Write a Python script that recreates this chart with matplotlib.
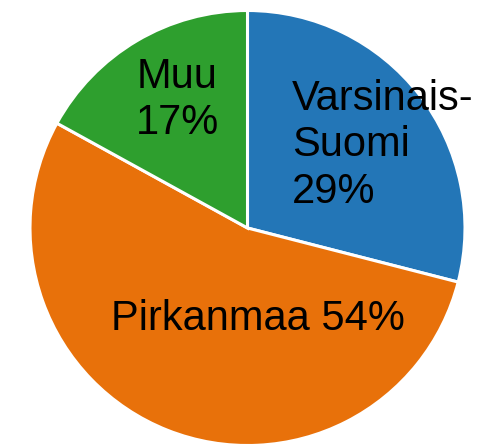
import matplotlib
matplotlib.use("Agg")
import numpy as np
from matplotlib import pyplot as plt

REGIONS = ["Varsinais-\nSuomi", "Pirkanmaa", "Muu"]
SHARES = [29, 54, 17]
COLORS = ["#2376b7", "#e8710a", "#2e9f2e"]

# label anchor points in data units (pie radius = 1)
LABEL_POS = [(0.205, 0.38), (0.05, -0.42), (-0.32, 0.59)]
LABEL_HA = ["left", "center", "center"]

FIG_W, FIG_H = 504, 447
CENTER_PX = (247.5, 228)
RADIUS_PX = 217.5

plt.rcParams["font.family"] = ["Liberation Sans", "DejaVu Sans"]

fig = plt.figure(figsize=(FIG_W / 100, FIG_H / 100), dpi=100)
ax = fig.add_axes([0, 0, 1, 1])

ax.pie(SHARES, colors=COLORS, startangle=90, counterclock=False,
       wedgeprops=dict(edgecolor="white", linewidth=2.2))

for name, share, (x, y), ha in zip(REGIONS, SHARES, LABEL_POS, LABEL_HA):
    sep = " " if name == "Pirkanmaa" else "\n"
    ax.text(x, y, "{}{}{}%".format(name, sep, share), fontsize=30, ha=ha, va="center",
            multialignment="left", linespacing=1.2, color="black")

ax.set_xlim(-CENTER_PX[0] / RADIUS_PX, (FIG_W - CENTER_PX[0]) / RADIUS_PX)
ax.set_ylim((CENTER_PX[1] - FIG_H) / RADIUS_PX, CENTER_PX[1] / RADIUS_PX)
ax.set_aspect("auto")
ax.axis("off")

fig.savefig("out.png", dpi=100, facecolor="white")
